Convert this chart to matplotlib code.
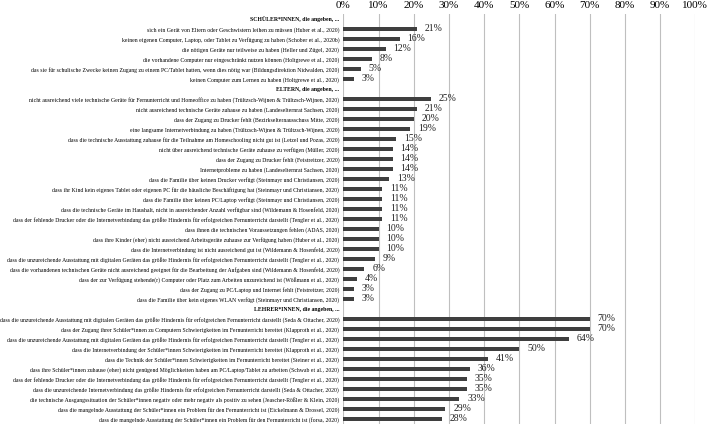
import matplotlib
matplotlib.use("Agg")
import matplotlib.pyplot as plt
from matplotlib.ticker import FuncFormatter

# Kategorien (Kopfzeilen haben None als Wert)
labels = [
    "SCHÜLER*INNEN, die angeben, ...",
    "sich ein Gerät von Eltern oder Geschwistern leihen zu müssen (Huber et al., 2020)",
    "keinen eigenen Computer, Laptop, oder Tablet zu Verfügung zu haben (Schober et al., 2020b)",
    "die nötigen Geräte nur teilweise zu haben (Heller und Zügel, 2020)",
    "die vorhandene Computer nur eingeschränkt nutzen können (Holtgrewe et al., 2020)",
    "das sie für schulische Zwecke keinen Zugang zu einem PC/Tablet hatten, wenn dies nötig war (Bildungsdirektion Nidwalden, 2020)",
    "keinen Computer zum Lernen zu haben (Holtgrewe et al., 2020)",
    "ELTERN, die angeben, ...",
    "nicht ausreichend viele technische Geräte für Fernunterricht und Homeoffice zu haben (Trültzsch-Wijnen & Trültzsch-Wijnen, 2020)",
    "nicht ausreichend technische Geräte zuhause zu haben (Landeselternrat Sachsen, 2020)",
    "dass der Zugang zu Drucker fehlt (Bezirkselternausschuss Mitte, 2020)",
    "eine langsame Internetverbindung zu haben (Trültzsch-Wijnen & Trültzsch-Wijnen, 2020)",
    "dass die technische Ausstattung zuhause für die Teilnahme am Homeschooling nicht gut ist (Letzel und Pozas, 2020)",
    "nicht über ausreichend technische Geräte zuhause zu verfügen (Müller, 2020)",
    "dass der Zugang zu Drucker fehlt (Feistreitzer, 2020)",
    "Internetprobleme zu haben (Landeselternrat Sachsen, 2020)",
    "dass die Familie über keinen Drucker verfügt (Steinmayr und Christiansen, 2020)",
    "dass ihr Kind kein eigenes Tablet oder eigenen PC für die häusliche Beschäftigung hat (Steinmayr und Christiansen, 2020)",
    "dass die Familie über keinen PC/Laptop verfügt (Steinmayr und Christiansen, 2020)",
    "dass die technische Geräte im Haushalt, nicht in ausreichender Anzahl verfügbar sind (Wildemann & Hosenfeld, 2020)",
    "dass der fehlende Drucker oder die Internetverbindung das größte Hindernis für erfolgreichen Fernunterricht darstellt (Tengler et al., 2020)",
    "dass ihnen die technischen Voraussetzungen fehlen (ADAS, 2020)",
    "dass ihre Kinder (eher) nicht ausreichend Arbeitsgeräte zuhause zur Verfügung haben (Huber et al., 2020)",
    "dass die Internetverbindung ist nicht ausreichend gut ist (Wildemann & Hosenfeld, 2020)",
    "dass die unzureichende Ausstattung mit digitalen Geräten das größte Hindernis für erfolgreichen Fernunterricht darstellt (Tengler et al., 2020)",
    "dass die vorhandenen technischen Geräte nicht ausreichend geeignet für die Bearbeitung der Aufgaben sind (Wildemann & Hosenfeld, 2020)",
    "dass der zur Verfügung stehende(r) Computer oder Platz zum Arbeiten unzureichend ist (Wößmann et al., 2020)",
    "dass der Zugang zu PC/Laptop und Internet fehlt (Feistreitzer, 2020)",
    "dass die Familie über kein eigenes WLAN verfügt (Steinmayr und Christiansen, 2020)",
    "LEHRER*INNEN, die angeben, ...",
    "dass die unzureichende Ausstattung mit digitalen Geräten das größte Hindernis für erfolgreichen Fernunterricht darstellt (Seda & Ottacher, 2020)",
    "dass der Zugang ihrer Schüler*innen zu Computern Schwierigkeiten im Fernunterricht bereitet (Klapproth et al., 2020)",
    "dass die unzureichende Ausstattung mit digitalen Geräten das größte Hindernis für erfolgreichen Fernunterricht darstellt (Tengler et al., 2020)",
    "dass die Internetverbindung der Schüler*innen Schwierigkeiten im Fernunterricht bereitet (Klapproth et al., 2020)",
    "dass die Technik der Schüler*innen Schwierigkeiten im Fernunterricht bereitet (Steiner et al., 2020)",
    "dass ihre Schüler*innen zuhause (eher) nicht genügend Möglichkeiten haben am PC/Laptop/Tablet zu arbeiten (Schwab et al., 2020)",
    "dass der fehlende Drucker oder die Internetverbindung das größte Hindernis für erfolgreichen Fernunterricht darstellt (Tengler et al., 2020)",
    "dass die unzureichende Internetverbindung das größte Hindernis für erfolgreichen Fernunterricht darstellt (Seda & Ottacher, 2020)",
    "die technische Ausgangssituation der Schüler*innen negativ oder mehr negativ als positiv zu sehen (Jeascher-Rößler & Klein, 2020)",
    "dass die mangelnde Ausstattung der Schüler*innen ein Problem für den Fernunterricht ist (Eickelmann & Drossel, 2020)",
    "dass die mangelnde Ausstattung der Schüler*innen ein Problem für den Fernunterricht ist (forsa, 2020)",
]

values = [
    None, 21, 16, 12, 8, 5, 3,
    None, 25, 21, 20, 19, 15, 14, 14, 14, 13, 11, 11, 11, 11, 10, 10, 10, 9, 6, 4, 3, 3,
    None, 70, 70, 64, 50, 41, 36, 35, 35, 33, 29, 28,
]

xticks = [0, 10, 20, 30, 40, 50, 60, 70, 80, 90, 100]

plt.rcParams['font.family'] = ['Liberation Serif', 'DejaVu Serif']

fig = plt.figure(figsize=(7.08, 4.24), dpi=100)
ax = fig.add_axes([0.485, 0.0, 0.497, 0.967])

for i, (lab, v) in enumerate(zip(labels, values)):
    if v is None:
        continue
    ax.barh(i, v, height=0.45, color="#3f3f3f", zorder=3)
    ax.text(v + 2.2, i, f"{v}%", va="center", ha="left", fontsize=7, color="#222222")

ax.set_ylim(len(labels) - 0.5, -0.5)
ax.set_xlim(0, 100)
ax.set_yticks(range(len(labels)))
ax.set_yticklabels(labels, fontsize=4.15)
for i, t in enumerate(ax.get_yticklabels()):
    if values[i] is None:
        t.set_fontweight("bold")
ax.tick_params(axis="y", length=0, pad=3)

ax.xaxis.tick_top()
ax.set_xticks(xticks)
ax.xaxis.set_major_formatter(FuncFormatter(lambda x, p: f"{int(x)}%"))
ax.tick_params(axis="x", length=0, labelsize=8, pad=3)
ax.grid(axis="x", color="#bfbfbf", linewidth=0.8, zorder=0)

for s in ax.spines.values():
    s.set_visible(False)

fig.savefig("out.png", dpi=100)
